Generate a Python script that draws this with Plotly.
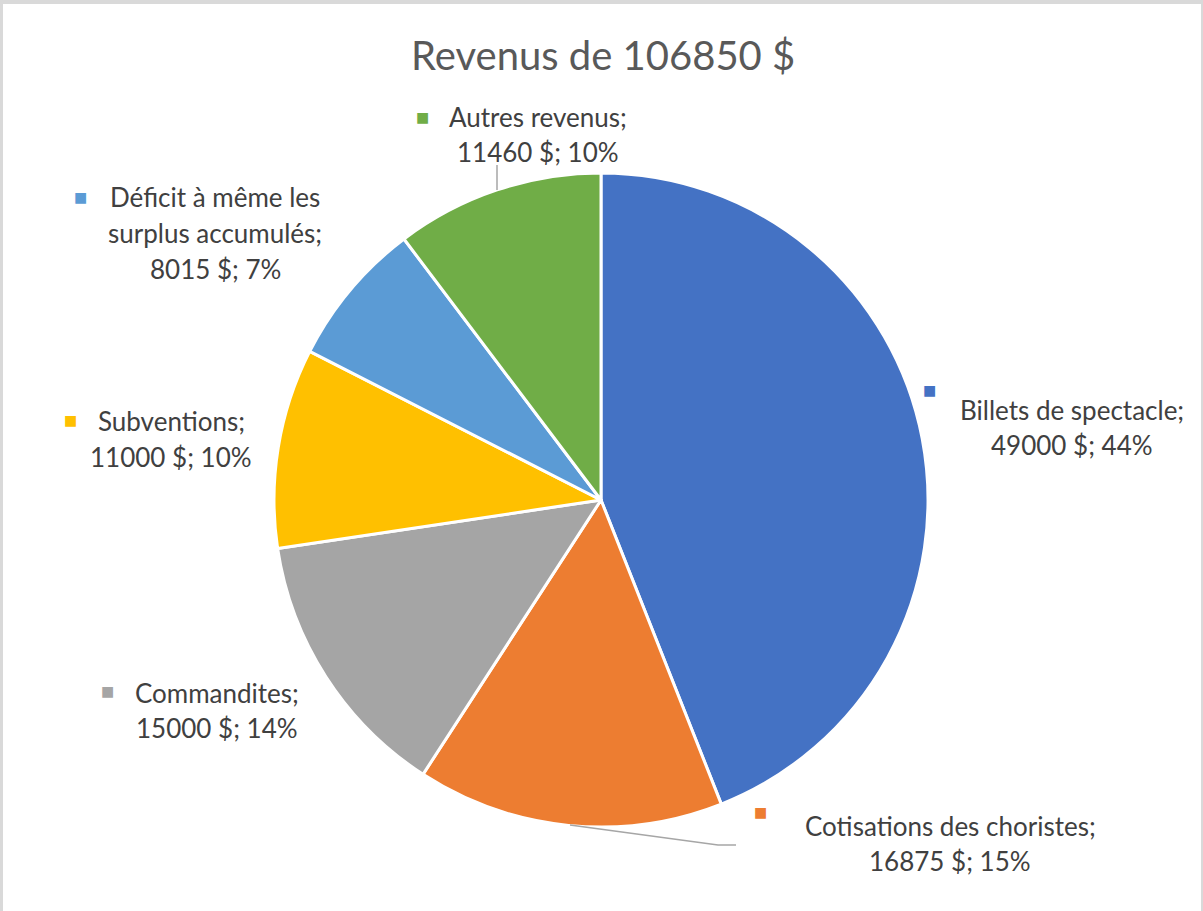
import plotly.graph_objects as go

W, H = 1203, 911

title_text = "Revenus de 106850 $"
labels = ["Billets de spectacle", "Cotisations des choristes", "Commandites",
          "Subventions", "Déficit à même les surplus accumulés", "Autres revenus"]
values = [49000, 16875, 15000, 11000, 8015, 11460]
percents = [44, 15, 14, 10, 7, 10]
colors = ["#4472C4", "#ED7D31", "#A5A5A5", "#FFC000", "#5B9BD5", "#70AD47"]

# label lines (as displayed) per slice
label_lines = [
    ["Billets de spectacle;", "49000 $; 44%"],
    ["Cotisations des choristes;", "16875 $; 15%"],
    ["Commandites;", "15000 $; 14%"],
    ["Subventions;", "11000 $; 10%"],
    ["Déficit à même les", "surplus accumulés;", "8015 $; 7%"],
    ["Autres revenus;", "11460 $; 10%"],
]

def px(x):
    return x / W

def py(y):
    return 1 - y / H

cx, cy, r = 601, 500, 327

fig = go.Figure(go.Pie(
    labels=labels,
    values=values,
    sort=False,
    direction="clockwise",
    rotation=0,
    marker=dict(colors=colors, line=dict(color="white", width=3)),
    textinfo="none",
    hoverinfo="label+value+percent",
    showlegend=False,
    domain=dict(x=[px(cx - r), px(cx + r)], y=[py(cy + r), py(cy - r)]),
))

FONT = "Lato, Calibri, 'Open Sans', sans-serif"
TXT = "#404040"
FS = 26

# label layout: (center x of text, first line y, line spacing, square x, square y)
label_pos = [
    (1072, 410, 35, 929, 390),
    (950, 826, 35, 760, 812),
    (217, 693, 35, 107, 691),
    (171, 421, 36, 70, 420),
    (215, 197, 36, 80, 197),
    (538, 117, 35, 422, 117),
]

ann = []
for lines, col, (tx, ty, dy, sx, sy) in zip(label_lines, colors, label_pos):
    for i, line in enumerate(lines):
        ann.append(dict(x=px(tx), y=py(ty + i * dy), xref="paper", yref="paper",
                        text=line, showarrow=False, xanchor="center", yanchor="middle",
                        font=dict(family=FONT, size=FS, color=TXT)))
    ann.append(dict(x=px(sx), y=py(sy), xref="paper", yref="paper",
                    text="■", showarrow=False, xanchor="center", yanchor="middle",
                    font=dict(family="DejaVu Sans", size=14, color=col)))

ann.append(dict(x=px(603), y=py(55), xref="paper", yref="paper", text=title_text,
                showarrow=False, xanchor="center", yanchor="middle",
                font=dict(family=FONT, size=40, color="#595959")))

shapes = [
    # leader lines
    dict(type="line", xref="paper", yref="paper", x0=px(497), y0=py(165), x1=px(497), y1=py(190),
         line=dict(color="#A6A6A6", width=1.5)),
    dict(type="path", xref="paper", yref="paper",
         path=f"M {px(570)} {py(825)} L {px(718)} {py(845)} L {px(736)} {py(845)}",
         line=dict(color="#A6A6A6", width=1.5)),
    # chart area border
    dict(type="line", xref="paper", yref="paper", x0=0, y0=py(2), x1=1, y1=py(2),
         line=dict(color="#D9D9D9", width=4)),
    dict(type="line", xref="paper", yref="paper", x0=px(1.5), y0=0, x1=px(1.5), y1=1,
         line=dict(color="#D9D9D9", width=3)),
    dict(type="line", xref="paper", yref="paper", x0=px(1202), y0=0, x1=px(1202), y1=1,
         line=dict(color="#D9D9D9", width=2)),
]

fig.update_layout(
    width=W, height=H,
    margin=dict(l=0, r=0, t=0, b=0),
    paper_bgcolor="white",
    plot_bgcolor="white",
    annotations=ann,
    shapes=shapes,
)

fig.write_html("out.html", config={"displayModeBar": False},
               post_script="document.body.style.margin='0px';")
